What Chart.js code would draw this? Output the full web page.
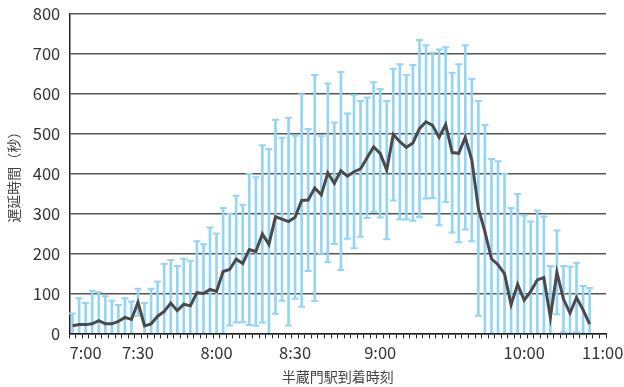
<!doctype html>
<html>
<head>
<meta charset="utf-8">
<title>遅延時間</title>
<script src="https://cdn.jsdelivr.net/npm/chart.js@4.4.1/dist/chart.umd.min.js"></script>
<style>
  html, body { margin: 0; padding: 0; background: #ffffff; }
  #wrap { width: 624px; height: 387px; }
</style>
</head>
<body>
<div id="wrap"><canvas id="delayChart" width="624" height="387"></canvas></div>
<script>
  // 80 arrivals, plus two empty slots at the end of the axis (11:00 sits on the last one)
  const SLOT_COUNT = 82;
  const tickLabelAt = { 2: '7:00', 10: '7:30', 22: '8:00', 34: '8:30', 47: '9:00', 69: '10:00', 81: '11:00' };

  // mean delay (seconds) per arrival
  const meanDelay = [
    19, 22, 22, 24, 32, 24, 24, 30, 40, 35,
    78, 19, 24, 43, 55, 76, 57, 73, 69, 102,
    100, 110, 105, 155, 160, 186, 175, 210, 205, 249,
    223, 292, 286, 280, 291, 333, 334, 364, 347, 402,
    376, 407, 394, 405, 412, 440, 467, 451, 409, 498,
    480, 466, 477, 513, 530, 521, 491, 523, 453, 451,
    491, 434, 313, 255, 187, 172, 149, 72, 123, 83,
    105, 134, 140, 40, 153, 86, 51, 90, 59, 23
  ];

  // standard deviation (seconds) per arrival, drawn as error bars
  const sdDelay = [
    31, 66, 54, 83, 71, 69, 58, 41, 48, 45,
    34, 57, 88, 87, 119, 108, 112, 114, 113, 129,
    123, 155, 145, 159, 140, 159, 147, 189, 186, 222,
    239, 243, 204, 260, 204, 266, 178, 283, 147, 224,
    152, 248, 157, 192, 170, 151, 162, 161, 173, 165,
    194, 181, 195, 222, 192, 182, 220, 194, 200, 223,
    231, 203, 269, 267, 250, 259, 250, 242, 226, 212,
    175, 174, 153, 129, 105, 83, 116, 87, 60, 91
  ];

  const yTicks = [0, 100, 200, 300, 400, 500, 600, 700, 800];

  const labels = [];
  for (let i = 0; i < SLOT_COUNT; i++) labels.push(tickLabelAt[i] || '');

  const barRange = meanDelay.map((m, i) => [Math.max(0, m - sdDelay[i]), m + sdDelay[i]]);
  const upperCap = meanDelay.map((m, i) => m + sdDelay[i]);
  const lowerCap = meanDelay.map((m, i) => (m - sdDelay[i] > 0 ? m - sdDelay[i] : null));

  const BLUE = '#93d5f3';
  const FONT = "'Noto Sans CJK JP', 'Noto Sans', sans-serif";

  new Chart(document.getElementById('delayChart'), {
    type: 'bar',
    data: {
      labels: labels,
      datasets: [
        {
          type: 'line',
          data: meanDelay,
          borderColor: '#4a4a4a',
          borderWidth: 3,
          pointRadius: 0,
          tension: 0,
          order: 0
        },
        {
          type: 'bar',
          data: barRange,
          backgroundColor: BLUE,
          barThickness: 2,
          grouped: false,
          order: 2
        },
        {
          type: 'line',
          data: upperCap,
          showLine: false,
          pointStyle: 'line',
          pointRadius: 3.5,
          pointBorderWidth: 2,
          pointBorderColor: BLUE,
          order: 1
        },
        {
          type: 'line',
          data: lowerCap,
          showLine: false,
          pointStyle: 'line',
          pointRadius: 3.5,
          pointBorderWidth: 2,
          pointBorderColor: BLUE,
          order: 1
        }
      ]
    },
    options: {
      responsive: false,
      animation: false,
      devicePixelRatio: 1,
      layout: { padding: { top: 14, right: 0, left: 5, bottom: 2 } },
      plugins: { legend: { display: false }, tooltip: { enabled: false } },
      scales: {
        x: {
          offset: true,
          // 11:00 overhangs the right edge; fix the gap so the plot ends near x=606
          afterFit: (axis) => { axis.paddingRight = 18; },
          grid: { offset: true, drawOnChartArea: false, drawTicks: true, tickLength: 5, color: '#222', lineWidth: 1 },
          border: { color: '#222', width: 1.5 },
          ticks: {
            autoSkip: false,
            maxRotation: 0,
            minRotation: 0,
            padding: 4,
            color: '#333',
            font: { family: FONT, size: 16.5 }
          },
          title: {
            display: true,
            text: '半蔵門駅到着時刻',
            color: '#444',
            padding: { top: 2, bottom: 0 },
            font: { family: FONT, size: 14 }
          }
        },
        y: {
          min: 0,
          max: 800,
          afterBuildTicks: (axis) => { axis.ticks = yTicks.map(v => ({ value: v })); },
          // the 800 label may poke above the plot; let layout padding alone set the top edge
          afterFit: (axis) => { axis.paddingTop = 0; axis.paddingBottom = 0; },
          grid: { color: '#555555', lineWidth: 1.4, drawTicks: false },
          border: { color: '#222', width: 1.5 },
          ticks: {
            padding: 9,
            color: '#333',
            font: { family: FONT, size: 16.5 }
          },
          title: {
            display: true,
            text: '遅延時間（秒）',
            color: '#444',
            padding: { top: 0, bottom: 2 },
            font: { family: FONT, size: 14 }
          }
        }
      }
    }
  });
</script>
</body>
</html>
